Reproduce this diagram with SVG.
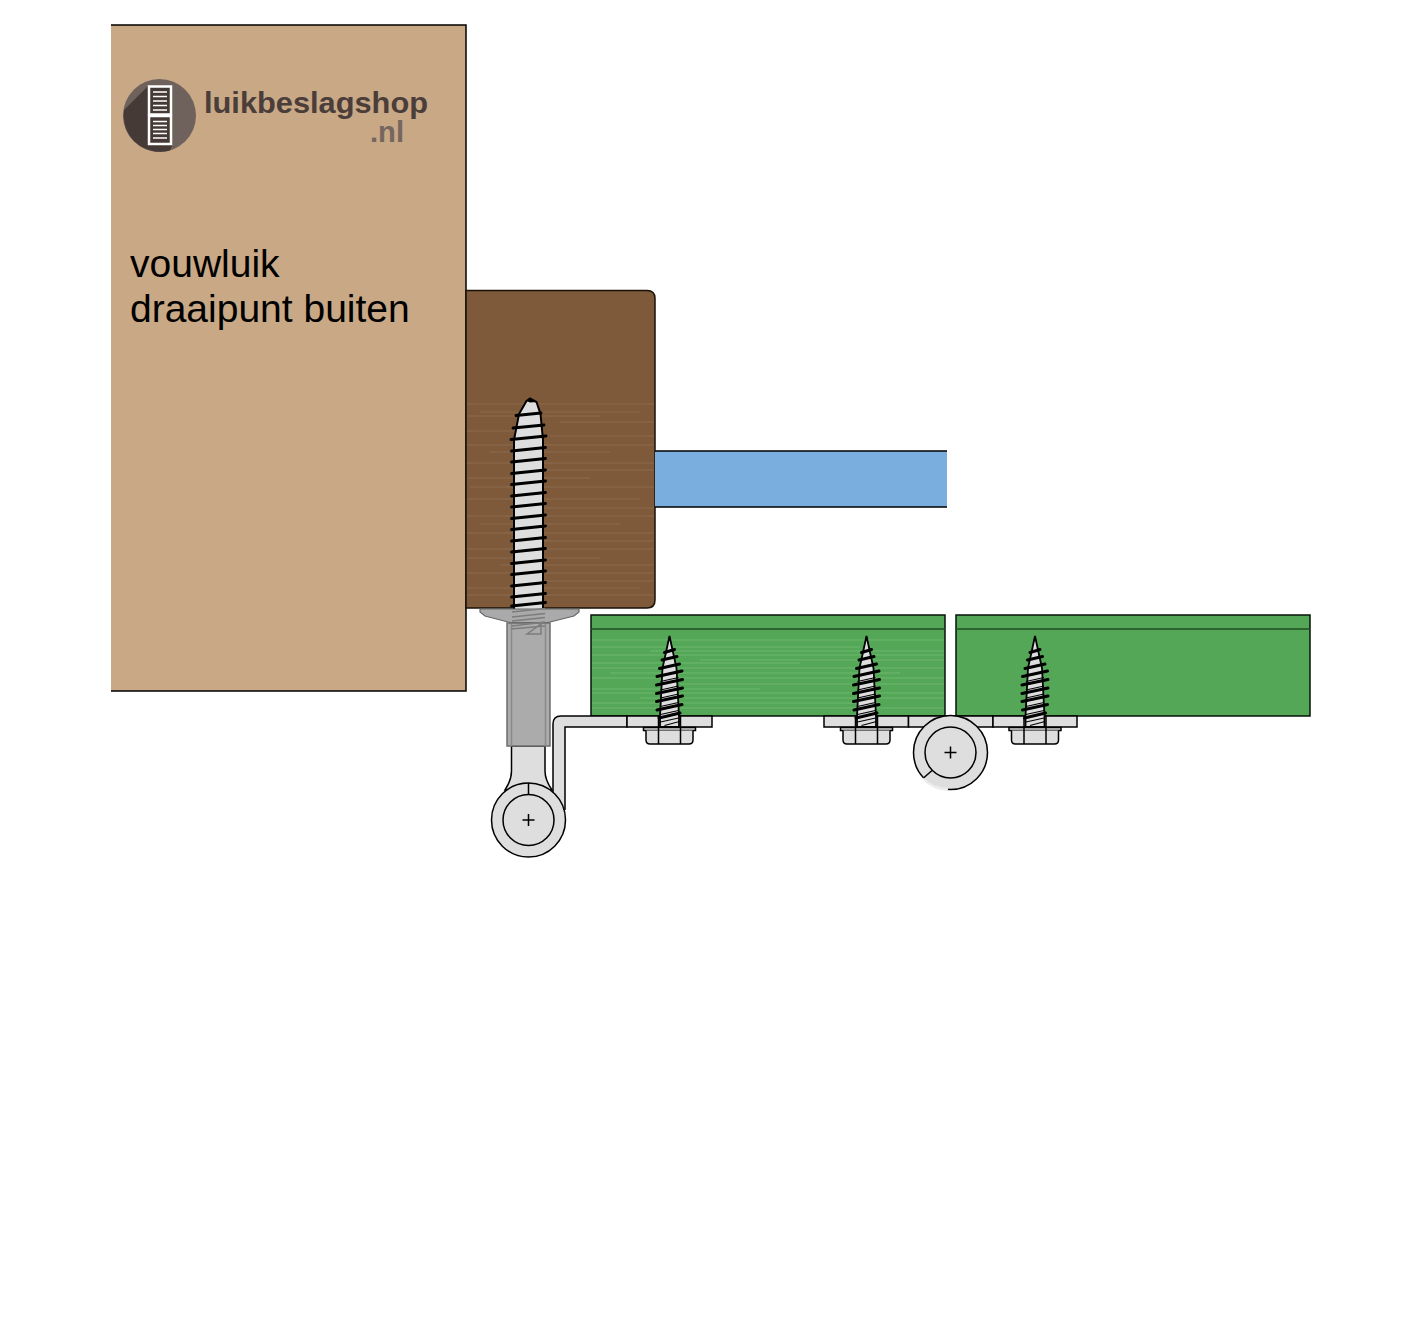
<svg xmlns="http://www.w3.org/2000/svg" xmlns:xlink="http://www.w3.org/1999/xlink" width="1427" height="1321" viewBox="0 0 1427 1321">
<style>
.ln{stroke:#000;stroke-width:1.5;fill:none}
.st{fill:#dedede;stroke:#000;stroke-width:1.5}
.lbl{font-family:"Liberation Sans",Arial,sans-serif;font-size:39px;fill:#000}
.logo{font-family:"Liberation Sans",Arial,sans-serif;font-size:30px;font-weight:700}
.gb{stroke:#a98c70;stroke-width:1;opacity:.35;fill:none}
.gg{stroke:#86c888;stroke-width:1;opacity:.5;fill:none}
.th{stroke:#000;stroke-width:3;stroke-linecap:round;fill:none}
.th2{stroke:#000;stroke-width:1.100;fill:none}
.big{stroke:#000;stroke-width:2.800;stroke-linecap:round;fill:none}
</style>
<defs>
<g id="small-screw">
<path fill="#dedede" stroke="#000" stroke-width="1.800" d="M0,636L3,650L7,668L9.500,716V727H-9.500V716L-7,668L-3,650Z"/>
<path class="th" d="M-5,652.500L5,649.500M-7.500,660L7.500,656.500M-10,668.500L10,664M-12.500,676.500L12.500,671M-13,685L13,679.500M-13,693.500L13,688M-13,701.500L13,696M-12.500,710L12.500,704.500M-10.500,718L10.500,713"/>
<path class="th2" d="M-9,681.500L9,677.500M-9,690L9,686M-9,698L9,694M-9,706.500L9,702.500M-9,714.500L9,710.500M-9,722L9,718M-5,725.500L10,721.500"/>
<path class="ln" d="M-11,716V727M11,716V727"/>
</g>
<g id="hex-head">
<rect class="st" x="-26" y="727.500" width="52" height="3"/>
<path class="st" d="M-23.500,730.500V740Q-23.500,744 -19.500,744H19.500Q23.500,744 23.500,740V730.500"/>
<path class="ln" d="M-11,727V744M11,727V744"/>
</g>
</defs>

<g id="shutter-panel">
<rect x="111" y="25" width="355" height="666" fill="#c9a886"/>
<path class="ln" d="M111,25H466V691H111"/>
<text class="lbl" x="130" y="277">vouwluik</text>
<text class="lbl" x="130" y="322">draaipunt buiten</text>
</g>

<g id="logo">
<circle cx="159.500" cy="115.500" r="36.500" fill="#6f625d"/>
<path d="M148,86L124,110A36.500,36.500 0 0 0 170,150.500L172,146V86Z" fill="#463a37"/>
<rect x="149" y="86.500" width="22" height="28" fill="#463a37" stroke="#fff" stroke-width="2.500"/>
<rect x="149" y="116" width="22" height="28" fill="#463a37" stroke="#fff" stroke-width="2.500"/>
<path stroke="#fff" stroke-width="1.400" fill="none" d="M153,92H167M153,96.500H167M153,101H167M153,105.500H167M153,110H167M153,121.500H167M153,125.500H167M153,129.500H167M153,133.500H167M153,138H167"/>
<text class="logo" x="204" y="113" fill="#4a3d3a" textLength="224" lengthAdjust="spacingAndGlyphs">luikbeslagshop</text>
<text class="logo" x="370" y="142" fill="#75665f" textLength="34" lengthAdjust="spacingAndGlyphs">.nl</text>
</g>

<g id="frame">
<path d="M466,290.500H647Q655,290.500 655,298.500V600Q655,608 647,608H466Z" fill="#7e5a3a" stroke="#1a1208" stroke-width="1.500"/>
<path class="gb" d="M467,404H654M480,412H640M467,416H600M560,422H654M467,431H520M550,436H654M467,445H654M490,452H610M467,463H654M540,470H654M467,478H590M470,487H654M467,499H640M510,508H654M467,516H654M480,524H620M467,533H654M540,541H654M467,549H654M467,558H600M500,565H654M467,573H654M520,581H654M467,588H640M467,595H654"/>
</g>

<g id="glass">
<rect x="655" y="451" width="292" height="56" fill="#7aaedf"/>
<path class="ln" d="M655,451H947M655,507H947"/>
</g>

<g id="batten-left">
<rect x="591" y="615" width="354" height="101" fill="#54a757" stroke="#061208" stroke-width="1.500"/>
<path d="M591,629H945" stroke="#1f4f23" stroke-width="1.500"/>
<path class="gg" d="M592,640H944M592,647H860M650,651H944M592,655H944M700,660H944M592,663H800M592,668H944M610,673H900M592,678H944M680,684H944M592,689H760M592,693H944M640,698H944M592,703H880M592,708H944"/>
</g>

<g id="batten-right">
<rect x="956" y="615" width="354" height="101" fill="#54a757" stroke="#061208" stroke-width="1.500"/>
<path d="M956,629H1310" stroke="#1f4f23" stroke-width="1.500"/>
</g>

<g id="lag-screw">
<path fill="#dedede" stroke="#000" stroke-width="2" d="M526.500,401L530,398.500L536.500,402L540.500,414L543,440V610H514V440L519,414Z"/>
<path d="M526.500,401L530,398.500L536.500,402L530,402.500Z" fill="#000"/>
<path class="big" d="M516,415.500L541,413M513,428L544,425M511,439.500L546,436M511.500,451L545.500,447.500M511.500,462L545.500,458.500M511.500,473.500L545.500,470M511.500,484.500L545.500,481M511.500,496L545.500,492.500M511.500,507L545.500,503.500M511.500,518.500L545.500,515M511.500,529.500L545.500,526M511.500,541L545.500,537.500M511.500,552L545.500,548.500M511.500,563.500L545.500,560M511.500,574.500L545.500,571M511.500,586L545.500,582.500M511.500,597L545.500,593.500M511.500,606L545.500,602.500"/>
</g>

<g id="eye-bolt">
<path class="st" d="M553,800V724Q553,716 561,716H627V727H565V810"/>
<path class="st" d="M511.500,746V771Q511.500,780 505,790H552Q545,780 545,771V746Z"/>
<path d="M480,609H579V612L574,616L548,622.500H510L485,616L480,612Z" fill="#aaa" stroke="#666" stroke-width="1.200"/>
<rect x="507" y="623" width="43" height="123" fill="#ababab" stroke="#6e6e6e" stroke-width="1.500"/>
<path d="M511.500,624V746M545.500,624V746" stroke="#8a8a8a" stroke-width="1.500"/>
<path d="M512,612L545,608.500M512,617L545,613.500M512,621L545,617.500M512,626L545,622M511,629L545,626M527,634L541,624V634Z" stroke="#7d7d7d" stroke-width="1.500" fill="none"/>
<circle class="st" cx="528.500" cy="820" r="37"/>
<circle class="st" cx="528.500" cy="820" r="25.500"/>
<path class="ln" d="M528.500,783V795M528.500,814V826M522.500,820H534.500"/>
</g>

<g id="plates">
<path class="st" d="M627,716H712V727H627Z"/>
<path class="st" d="M824,716H908.500V727H824Z"/>
<path class="st" d="M908.500,716H993V727H908.500Z"/>
<path class="st" d="M993,716H1077V727H993Z"/>
</g>

<g id="screw-1"><use xlink:href="#hex-head" href="#hex-head" x="669.500"/><use xlink:href="#small-screw" href="#small-screw" x="669.500"/></g>
<g id="screw-2"><use xlink:href="#hex-head" href="#hex-head" x="866.500"/><use xlink:href="#small-screw" href="#small-screw" x="866.500"/></g>
<g id="screw-3"><use xlink:href="#hex-head" href="#hex-head" x="1035"/><use xlink:href="#small-screw" href="#small-screw" x="1035"/></g>

<g id="hinge-pivot">
<circle class="st" cx="950.500" cy="752.500" r="37"/>
<path d="M923,778A37,37 0 0 0 948,789.500" fill="none" stroke="#ececec" stroke-width="3"/>
<circle class="st" cx="950.500" cy="752.500" r="25.500"/>
<path class="ln" d="M923.500,778L932,770.500M950.500,746.500V758.500M944.500,752.500H956.500"/>
</g>
</svg>
